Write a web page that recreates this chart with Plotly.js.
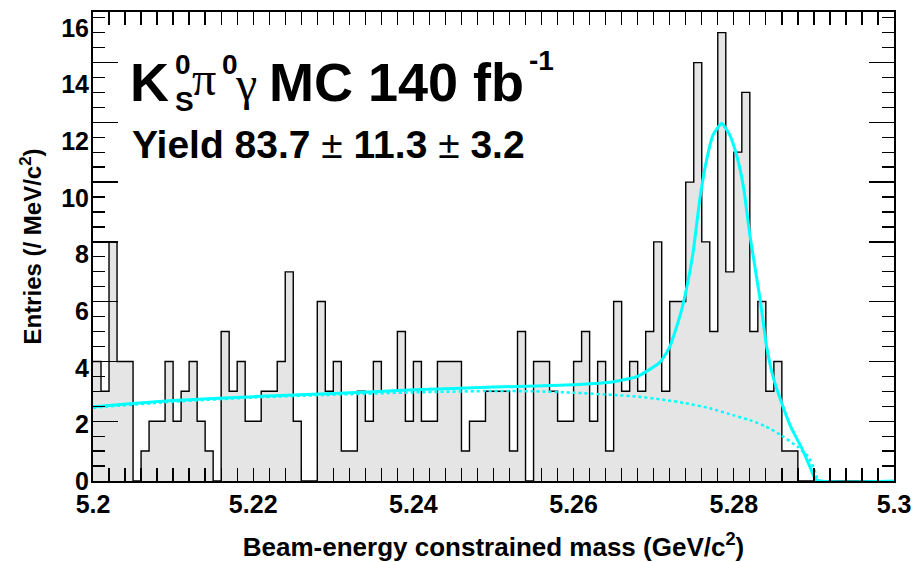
<!DOCTYPE html>
<html>
<head>
<meta charset="utf-8">
<script src="https://cdn.plot.ly/plotly-3.0.1.min.js"></script>
<style>html,body{margin:0;padding:0;background:#fff;}</style>
</head>
<body>
<div id="chart" style="width:914px;height:562px;"></div>
<script>
// Histogram: entries per MeV/c^2, 100 bins of 1 MeV from 5.200 to 5.300 GeV/c^2
const binStart = 5.200;
const binWidth = 0.001;
const entries = [
  4.22, 3.17, 8.45, 4.22, 4.22, 0,    1.06, 2.11, 2.11, 4.22,
  2.11, 3.17, 4.22, 2.11, 1.06, 0,    5.28, 3.17, 4.22, 2.11,
  2.11, 3.17, 3.17, 4.22, 7.39, 2.11, 0,    0,    6.34, 3.17,
  4.22, 1.06, 1.06, 3.17, 2.11, 4.22, 3.17, 3.17, 5.28, 2.11,
  4.22, 2.11, 2.11, 4.22, 4.22, 4.22, 1.06, 2.11, 2.11, 3.17,
  3.17, 3.17, 1.06, 5.28, 0,    4.22, 4.22, 3.17, 2.11, 2.11,
  4.22, 5.28, 2.11, 4.22, 1.06, 6.34, 3.17, 4.22, 3.17, 5.28,
  8.45, 3.17, 6.34, 6.34, 10.56, 14.78, 8.45, 5.28, 15.84, 7.39,
  11.62, 13.73, 5.28, 6.34, 3.17, 4.22, 1.06, 1.06, 0,   0,
  0,    0,    0,    0,    0,    0,    0,    0,    0,    0
];

// Total fit (signal + background), solid cyan
const fitMass = [5.200, 5.210, 5.220, 5.230, 5.240, 5.250, 5.259, 5.265, 5.268, 5.2708,
  5.272, 5.2733, 5.2741, 5.2749, 5.2758, 5.2766, 5.2774, 5.2785, 5.2795, 5.2804,
  5.2812, 5.2820, 5.2833, 5.2841, 5.2849, 5.2860, 5.2871, 5.2885, 5.2895, 5.2903, 5.300];
const fitValue = [2.62, 2.84, 2.98, 3.09, 3.22, 3.32, 3.39, 3.51, 3.70, 4.20,
  4.74, 5.85, 6.80, 8.04, 10.04, 11.34, 12.22, 12.63, 12.22, 11.46,
  10.40, 8.70, 6.39, 4.74, 3.68, 2.74, 1.92, 1.15, 0.51, 0.04, 0];

// Background component, dotted cyan
const bkgMass = [5.200, 5.210, 5.220, 5.230, 5.240, 5.250, 5.255, 5.260, 5.265, 5.268,
  5.271, 5.274, 5.277, 5.280, 5.282, 5.284, 5.286, 5.288, 5.2893, 5.2900, 5.2905];
const bkgValue = [2.59, 2.80, 2.95, 3.05, 3.13, 3.18, 3.17, 3.12, 3.04, 2.98,
  2.88, 2.75, 2.57, 2.32, 2.15, 1.93, 1.60, 1.20, 0.85, 0.45, 0];

const xTickVals = [5.20, 5.21, 5.22, 5.23, 5.24, 5.25, 5.26, 5.27, 5.28, 5.29, 5.30];
const xTickText = ['5.2', ' ', '5.22', ' ', '5.24', ' ', '5.26', ' ', '5.28', ' ', '5.3'];
const yTickVals = [0, 2, 4, 6, 8, 10, 12, 14, 16];

// histogram step outline from bin edges
const edges = [];
const stepY = [];
for (let i = 0; i <= entries.length; i++) {
  edges.push(+(binStart + binWidth * i).toFixed(4));
  stepY.push(i < entries.length ? entries[i] : entries[entries.length - 1]);
}

const W = 914, H = 562;
const M = {l: 93, r: 20, t: 12, b: 81};
const pw = W - M.l - M.r, ph = H - M.t - M.b;
const px = v => (v - M.l) / pw;
const py = v => (H - M.b - v) / ph;

const SANS = 'Liberation Sans, Arial, Helvetica, sans-serif';
const SERIF = 'Liberation Serif, Times New Roman, serif';
const black = '#000000';

const traces = [
  {
    type: 'scatter', x: edges, y: stepY, mode: 'lines',
    line: {shape: 'hv', color: black, width: 1.4},
    fill: 'tozeroy', fillcolor: '#e5e5e5',
    hoverinfo: 'skip', showlegend: false
  },
  {
    type: 'scatter', x: bkgMass, y: bkgValue, mode: 'lines',
    line: {color: '#00ffff', width: 2.5, dash: 'dot', shape: 'spline', smoothing: 0.5},
    hoverinfo: 'skip', showlegend: false
  },
  {
    type: 'scatter', x: fitMass, y: fitValue, mode: 'lines',
    line: {color: '#00ffff', width: 3, shape: 'spline', smoothing: 0.5},
    hoverinfo: 'skip', showlegend: false
  },
  {
    type: 'scatter', x: [5.25], y: [0], yaxis: 'y2', mode: 'markers',
    marker: {opacity: 0}, hoverinfo: 'skip', showlegend: false
  }
];

function ann(text, x, y, size, extra) {
  return Object.assign({
    text: text, xref: 'paper', yref: 'paper', x: px(x), y: py(y),
    xanchor: 'left', yanchor: 'middle', showarrow: false,
    font: {family: SANS, size: size, color: black, weight: 700}
  }, extra || {});
}

const annotations = [
  ann('K', 128, 82.5, 54),
  ann('0', 173, 64, 28),
  ann('S', 173, 101, 28),
  ann('π', 190, 78, 48, {font: {family: SERIF, size: 48, color: black, weight: 400}}),
  ann('0', 220, 64, 28),
  ann('γ', 233, 83, 48, {font: {family: SERIF, size: 48, color: black, weight: 400}}),
  ann('MC 140 fb', 267, 82.5, 54),
  ann('-1', 527, 60, 28),
  ann('Yield 83.7<span style="font-weight:400"> ± </span>11.3<span style="font-weight:400"> ± </span>3.2', 130, 144, 39)
];

const layout = {
  width: W, height: H,
  margin: M,
  paper_bgcolor: '#ffffff', plot_bgcolor: '#ffffff',
  font: {family: SANS, color: black, weight: 700},
  showlegend: false,
  xaxis: {
    range: [5.2, 5.3], tickmode: 'array', tickvals: xTickVals, ticktext: xTickText,
    ticks: 'inside', ticklen: 13, tickwidth: 1.3, tickcolor: black,
    minor: {dtick: 0.002, tick0: 5.2, ticks: 'inside', ticklen: 6, tickwidth: 1.3, tickcolor: black},
    showline: true, linecolor: black, linewidth: 2, mirror: 'allticks',
    showgrid: false, zeroline: false,
    tickfont: {family: SANS, size: 25, color: black, weight: 700},
    title: {text: 'Beam-energy constrained mass (GeV/c<sup>2</sup>)', standoff: 22,
      font: {family: SANS, size: 26, color: black, weight: 700}}
  },
  yaxis: {
    range: [0, 16.57], tickmode: 'array', tickvals: yTickVals,
    ticks: '', showline: false, showgrid: false, zeroline: false,
    tickfont: {family: SANS, size: 25, color: black, weight: 700},
    ticklabelstandoff: 3,
    title: {text: 'Entries (/ MeV/c<sup>2</sup>)', standoff: 12,
      font: {family: SANS, size: 24, color: black, weight: 700}}
  },
  yaxis2: {
    overlaying: 'y', side: 'left', range: [0, 15.69],
    tickmode: 'linear', tick0: 0, dtick: 2,
    ticks: 'inside', ticklen: 25, tickwidth: 1.3, tickcolor: black,
    minor: {dtick: 0.5, tick0: 0, ticks: 'inside', ticklen: 12, tickwidth: 1.3, tickcolor: black},
    showticklabels: false, showline: true, linecolor: black, linewidth: 2, mirror: 'allticks',
    showgrid: false, zeroline: false
  },
  annotations: annotations
};

Plotly.newPlot('chart', traces, layout, {displayModeBar: false, staticPlot: true});
</script>
</body>
</html>
